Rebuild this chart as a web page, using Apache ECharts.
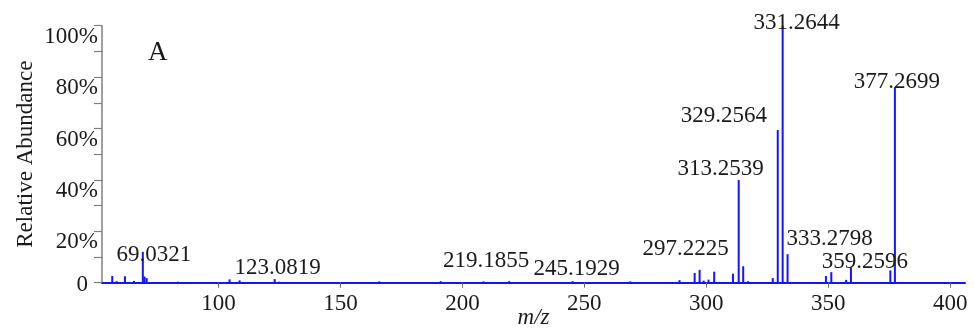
<!DOCTYPE html>
<html>
<head>
<meta charset="utf-8">
<script src="https://cdn.jsdelivr.net/npm/echarts@6/dist/echarts.min.js"></script>
<style>
html,body{margin:0;padding:0;background:#fff;}
#chart{width:974px;height:329px;}
</style>
</head>
<body>
<div id="chart"></div>
<script>
// ---- data ----
const mzValues = [56.5, 58.3, 61.7, 65.4, 69.0321, 69.7, 70.6, 83.4, 104.6, 108.7, 123.0819, 124.9,
  165.9, 191.1, 208.7, 219.1855, 245.1929, 268.8, 289.0, 295.2, 297.2225, 298.9, 300.9, 303.2,
  310.9, 313.2539, 315.1, 317.1, 327.2, 329.2564, 331.2644, 333.2798, 349.0, 351.2, 357.3,
  359.2596, 375.4, 377.2699];
const abundances = [2.6, 0.6, 2.5, 0.7, 12.0, 2.4, 1.8, 0.4, 1.3, 0.9, 1.4, 0.4,
  0.5, 0.6, 0.5, 0.6, 0.6, 0.5, 1.0, 3.8, 5.0, 0.8, 1.2, 4.3,
  3.5, 40.0, 6.4, 0.6, 1.8, 59.4, 100, 11.1, 2.6, 4.1, 1.1,
  6.0, 4.8, 76.1];
const labeledPeaks = [69.0321, 123.0819, 219.1855, 245.1929, 297.2225, 313.2539,
  329.2564, 331.2644, 333.2798, 359.2596, 377.2699];
const xTickValues = [100, 150, 200, 250, 300, 350, 400];
const yTickValues = [0, 20, 40, 60, 80, 100];

// ---- styling (label placement offsets, px) ----
const labelOffsets = [[11, 15], [3, 0], [-23, -9], [4, -1], [-14, -9], [-18, 1],
  [-54, -3], [14, 9], [42, -4], [14, 6], [2, 6]];

const FONT = '"Liberation Serif", "Times New Roman", serif';
const BLUE = '#1414ff';
const FS = 23;

const seriesData = mzValues.map((m, i) => {
  const k = labeledPeaks.indexOf(m);
  const item = { value: [m, abundances[i]] };
  if (k >= 0) {
    item.label = {
      show: true,
      position: 'top',
      distance: 0,
      offset: labelOffsets[k],
      formatter: () => labeledPeaks[k].toFixed(4),
      fontFamily: FONT,
      fontSize: FS,
      color: '#1a1a1a'
    };
  }
  return item;
});

const chart = echarts.init(document.getElementById('chart'), null, { renderer: 'canvas' });
chart.setOption({
  backgroundColor: '#ffffff',
  animation: false,
  title: {
    text: 'A', left: 143, top: 34,
    textStyle: { fontFamily: FONT, fontSize: 27, fontWeight: 'normal', color: '#1a1a1a' }
  },
  grid: { left: 102, right: 9, top: 25.7, bottom: 46.3, outerBoundsMode: 'none', containLabel: false },
  xAxis: {
    type: 'value',
    min: 52.3,
    max: 406,
    name: 'm/z',
    nameLocation: 'middle',
    nameGap: 24,
    nameMoveOverlap: false,
    nameTextStyle: { fontFamily: FONT, fontSize: FS, fontStyle: 'italic', color: '#1a1a1a' },
    axisLine: { show: true, lineStyle: { color: BLUE, width: 2 } },
    axisTick: { show: true, length: 5, customValues: xTickValues, lineStyle: { color: '#6e6e6e', width: 1 } },
    axisLabel: { customValues: xTickValues, margin: 10, fontFamily: FONT, fontSize: FS, color: '#1a1a1a' },
    splitLine: { show: false }
  },
  yAxis: {
    type: 'value',
    min: 0,
    max: 100,
    interval: 10,
    name: 'Relative Abundance',
    nameLocation: 'middle',
    nameGap: 65,
    nameMoveOverlap: false,
    nameTextStyle: { fontFamily: FONT, fontSize: FS, color: '#1a1a1a' },
    axisLine: { show: true, lineStyle: { color: '#808080', width: 1.5 } },
    axisTick: { show: true, length: 8, lineStyle: { color: '#808080', width: 1.2 } },
    axisLabel: {
      margin: 4,
      formatter: v => {
        if (yTickValues.indexOf(v) < 0) return '';
        return v === 0 ? '{z|0}' : '{p|' + v + '%}';
      },
      rich: {
        z: { fontFamily: FONT, fontSize: FS, color: '#1a1a1a', padding: [4, 10, 0, 0] },
        p: { fontFamily: FONT, fontSize: FS, color: '#1a1a1a', padding: [22, 0, 0, 0] }
      }
    },
    splitLine: { show: false }
  },
  series: [{
    type: 'bar',
    data: seriesData,
    barWidth: 2,
    itemStyle: { color: BLUE },
    z: 3
  }]
});
</script>
</body>
</html>
